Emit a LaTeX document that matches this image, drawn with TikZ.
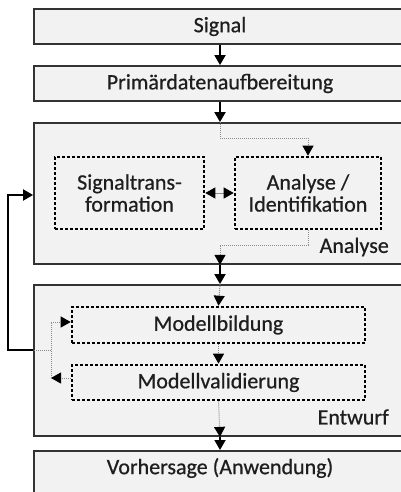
\documentclass[tikz,border=0pt]{standalone}
\usepackage{fontspec}
\setmainfont[FakeBold=0.6]{Carlito}
\usetikzlibrary{arrows.meta}
\definecolor{bg}{HTML}{F2F2F2}
\definecolor{txt}{HTML}{1E1E1E}
\begin{document}
\begin{tikzpicture}[x=1pt,y=1pt,
  fnt/.style={font=\fontsize{22}{22}\selectfont},
  box/.style={draw=black!80, line width=1.8pt, fill=bg, inner sep=0pt, text=txt, fnt},
  dbox/.style={draw=black, line width=2.6pt, dash pattern=on 2.6pt off 2.4pt, fill=bg, inner sep=0pt, align=center, text=txt, fnt},
  tip/.style={-{Triangle[length=10pt,width=11pt,color=black]}},
  sarr/.style={draw=black, line width=1.8pt, tip},
  darr/.style={draw=black!45, line width=1pt, dash pattern=on 1pt off 1pt, tip},
  dline/.style={draw=black!45, line width=1pt, dash pattern=on 1pt off 1pt},
  lbl/.style={inner sep=0pt, text=txt, fnt, anchor=east}
]
\useasboundingbox (0,0) rectangle (401,-492);
\begin{scope}
\clip (0,0) rectangle (401,-492);
% outer boxes
\node[box, minimum width=372pt, minimum height=35pt] (sig) at (220,-26.5) {Signal};
\node[box, minimum width=372pt, minimum height=35pt] (prim) at (220,-83.5) {Primärdatenaufbereitung};
\node[box, minimum width=372pt, minimum height=141pt] (ana) at (220,-193.5) {};
\node[box, minimum width=372pt, minimum height=151pt] (ent) at (220,-360.5) {};
\node[box, minimum width=372pt, minimum height=50pt, anchor=north] (vor) at (220,-450) {};
\node[inner sep=0pt, text=txt, fnt] (vortxt) at (220,-468) {Vorhersage (Anwendung)};
% inner dotted boxes
\node[dbox, minimum width=149pt, minimum height=72pt] (st) at (129.5,-193) {Signaltrans-\\formation};
\node[dbox, minimum width=146pt, minimum height=72pt] (ai) at (308,-193) {Analyse /\\Identifikation};
\node[dbox, minimum width=293pt, minimum height=36pt] (mb) at (218.5,-325) {Modellbildung};
\node[dbox, minimum width=293pt, minimum height=35pt] (mv) at (218.5,-382.5) {Modellvalidierung};
% labels
\node[lbl] (lana) at (389,-247) {Analyse};
\node[lbl] (lent) at (389,-417) {Entwurf};
% coordinates
\coordinate (a1) at (220,-138);
\coordinate (a2) at (308,-138);
\coordinate (b1) at (308,-245);
\coordinate (b2) at (220,-245);
\coordinate (fv) at (51,-378);
\coordinate (ft) at (51,-322);
\coordinate (fm) at (51,-350);
\coordinate (fo) at (8,-350);
\coordinate (fu) at (8,-195);
% solid arrows
\draw[sarr] (sig.south) -- (prim.north);
\draw[sarr] (prim.south) -- (ana.north);
\draw[sarr] (ana.south) -- (ent.north);
\draw[sarr] (ent.south) -- (vor.north);
% dotted connectors
\draw[darr] (ana.north) -- (a1) -- (a2) -- (ai.north);
\draw[darr] (ai.south) -- (b1) -- (b2) -- (ana.south);
\draw[draw=black!45, line width=1pt, {Triangle[length=10pt,width=11pt,color=black]}-{Triangle[length=10pt,width=11pt,color=black]}] (st.east) -- (ai.west);
\draw[darr] (ent.north) -- (mb.north);
\draw[darr] (mb.south) -- (mv.north);
\draw[darr] (mv.south) -- (ent.south);
% feedback
\draw[darr] (mv.west |- fv) -- (fv);
\draw[dline] (fv) -- (ft);
\draw[darr] (ft) -- (mb.west |- ft);
\draw[dline] (fm) -- (ent.west |- fm);
\draw[draw=black, line width=1.8pt, tip] (ent.west |- fm) -- (fo) -- (fu) -- (ana.west |- fu);
\end{scope}
\end{tikzpicture}
\end{document}
